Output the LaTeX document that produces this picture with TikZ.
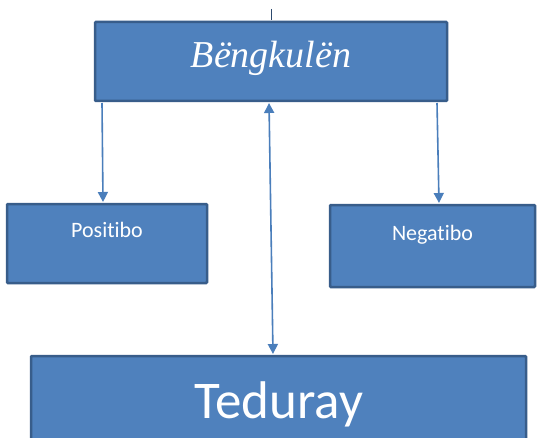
\documentclass[tikz,border=0pt]{standalone}
\usepackage{fontspec}
\setmainfont{Liberation Serif}
\newfontfamily\calibri[Ligatures={NoCommon}]{Carlito}
\usetikzlibrary{arrows.meta}
\definecolor{boxfill}{HTML}{4F81BD}
\definecolor{boxline}{HTML}{385D8A}
\definecolor{connline}{HTML}{4A7EBB}
\tikzset{
  bluebox/.style={draw=boxline, fill=boxfill, line width=2.5pt, rounded corners=1pt,
    text=white, inner sep=0pt, outer sep=0pt},
  conn/.style={draw=connline, line width=1.6pt, -{Triangle[length=10pt,width=10pt]}},
  conn2/.style={draw=connline, line width=1.6pt, {Triangle[length=10pt,width=10pt]}-{Triangle[length=10pt,width=10pt]}},
  tickline/.style={draw=boxline!80!black, line width=1pt}
}
\begin{document}
\begin{tikzpicture}[x=1pt,y=-1pt]
\clip (0,0) rectangle (537,438);
\fill[white] (0,0) rectangle (537,438);
\node[bluebox, minimum width=352pt, minimum height=79pt, text height=26pt, text depth=13pt,
  font=\fontsize{38}{44}\selectfont\itshape] (top) at (271,61.5) {Bëngkulën};
\node[bluebox, minimum width=200pt, minimum height=79pt, text height=14pt, text depth=25.6pt,
  font=\calibri\fontsize{22}{26}\selectfont] (pos) at (107,243.5) {Positibo};
\node[bluebox, minimum width=205pt, minimum height=82pt, text height=14pt, text depth=24.6pt,
  font=\calibri\fontsize{22}{26}\selectfont] (neg) at (432.5,246) {Negatibo};
\node[bluebox, minimum width=495pt, minimum height=90pt, text height=41pt, text depth=7pt,
  font=\calibri\fontsize{53}{62}\selectfont] (ted) at (278.5,401) {Teduray};
\coordinate (tk) at (271,9);
\draw[tickline] (tk) -- ([yshift=2pt]top.north);
\draw[conn] ([xshift=7pt,yshift=-2pt]top.south west) -- ([xshift=96pt,yshift=2pt]pos.north west);
\draw[conn] ([xshift=-10pt,yshift=-2pt]top.south east) -- ([xshift=109pt,yshift=2pt]neg.north west);
\draw[conn2] ([xshift=-2pt,yshift=-2pt]top.south) -- ([xshift=-5.5pt,yshift=2pt]ted.north);
\end{tikzpicture}
\end{document}
